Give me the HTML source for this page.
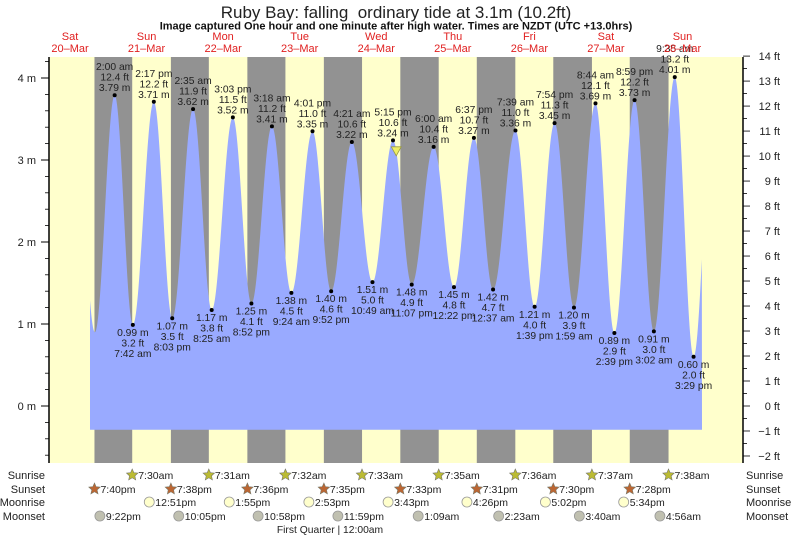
<!DOCTYPE html>
<html><head><meta charset="utf-8"><style>
body{margin:0;background:#fff;}
svg{display:block;font-family:"Liberation Sans",sans-serif;}
</style></head><body>
<svg id="chart" width="793" height="537" viewBox="0 0 793 537" xmlns="http://www.w3.org/2000/svg">
<text x="396" y="18" font-size="17" text-anchor="middle" fill="#222" xml:space="preserve">Ruby Bay: falling  ordinary tide at 3.1m (10.2ft)</text>
<text x="396" y="29.5" font-size="11" font-weight="bold" text-anchor="middle" fill="#111">Image captured One hour and one minute after high water. Times are NZDT (UTC +13.0hrs)</text>
<g id="g"></g>
</svg>
<script>
// hours since Sat 20-Mar 00:00
const extremeTimes=[26.0,31.7,38.28,44.05,50.58,56.42,63.05,68.87,75.3,81.4,88.02,93.87,100.35,106.82,113.25,119.12,126.0,132.37,138.62,144.62,151.65,157.65,163.9,169.98,176.73,182.65,188.98,195.03,201.58,207.48];
const extremeHeights=[3.79,0.99,3.71,1.07,3.62,1.17,3.52,1.25,3.41,1.38,3.35,1.40,3.22,1.51,3.24,1.48,3.16,1.45,3.27,1.42,3.36,1.21,3.45,1.20,3.69,0.89,3.73,0.91,4.01,0.60];
const extremeFeet=["12.4","3.2","12.2","3.5","11.9","3.8","11.5","4.1","11.2","4.5","11.0","4.6","10.6","5.0","10.6","4.9","10.4","4.8","10.7","4.7","11.0","4.0","11.3","3.9","12.1","2.9","12.2","3.0","13.2","2.0"];
const extremeClock=["2:00 am","7:42 am","2:17 pm","8:03 pm","2:35 am","8:25 am","3:03 pm","8:52 pm","3:18 am","9:24 am","4:01 pm","9:52 pm","4:21 am","10:49 am","5:15 pm","11:07 pm","6:00 am","12:22 pm","6:37 pm","12:37 am","7:39 am","1:39 pm","7:54 pm","1:59 am","8:44 am","2:39 pm","8:59 pm","3:02 am","9:35 am","3:29 pm"];
const dayNames=["Sat","Sun","Mon","Tue","Wed","Thu","Fri","Sat","Sun"];
const dayDates=["20\u2013Mar","21\u2013Mar","22\u2013Mar","23\u2013Mar","24\u2013Mar","25\u2013Mar","26\u2013Mar","27\u2013Mar","28\u2013Mar"];
const sunriseHours=[31.5,55.52,79.53,103.55,127.58,151.6,175.62,199.63];
const sunriseLabels=["7:30am","7:31am","7:32am","7:33am","7:35am","7:36am","7:37am","7:38am"];
const sunsetHours=[19.67,43.63,67.6,91.58,115.55,139.52,163.5,187.47];
const sunsetLabels=["7:40pm","7:38pm","7:36pm","7:35pm","7:33pm","7:31pm","7:30pm","7:28pm"];
const moonriseHours=[36.85,61.92,86.88,111.72,136.43,161.03,185.57];
const moonriseLabels=["12:51pm","1:55pm","2:53pm","3:43pm","4:26pm","5:02pm","5:34pm"];
const moonsetHours=[21.37,46.08,70.97,95.98,121.15,146.38,171.67,196.93];
const moonsetLabels=["9:22pm","10:05pm","10:58pm","11:59pm","1:09am","2:23am","3:40am","4:56am"];
const meterTicks=[0,1,2,3,4];
const feetTicks=[-2,-1,0,1,2,3,4,5,6,7,8,9,10,11,12,13,14];
const nowHour=114.27, nowLevel=3.1;

const NS="http://www.w3.org/2000/svg";
const g=document.getElementById('g');
const L=49,R=743,T=57,B=463;
const X=h=>70+(h-12)*3.19;
const Y=m=>406-m*82;
function el(tag,attrs,parent){const e=document.createElementNS(NS,tag);for(const k in attrs)e.setAttribute(k,attrs[k]);(parent||g).appendChild(e);return e;}
function txt(s,attrs){const e=el('text',attrs);e.textContent=s;return e;}

let bg=el('rect',{x:L,y:T,width:R-L,height:B-T,fill:'#ffffcc'});


for(let i=0;i<sunsetHours.length;i++){
  const x1=X(sunsetHours[i]), x2=i<sunriseHours.length?X(sunriseHours[i]):R;
  const r=el('rect',{x:x1,y:T,width:x2-x1,height:B-T,fill:'#929292'});
  
  
}
const ts=[13.5,19.8].concat(extremeTimes,[213.8]);
const hs=[3.7,0.9].concat(extremeHeights,[3.9]);
function level(t){for(let i=0;i<ts.length-1;i++){if(t>=ts[i]&&t<=ts[i+1]){const f=(t-ts[i])/(ts[i+1]-ts[i]);return hs[i]+(hs[i+1]-hs[i])*(1-Math.cos(Math.PI*f))/2;}}return hs[0];}
const t0=12+(90-70)/3.19, t1=12+(702-70)/3.19;
let d=`M${X(t0)},${Y(-0.29)}`;
for(let t=t0;t<=t1;t+=0.1)d+=`L${X(t).toFixed(2)},${Y(level(t)).toFixed(2)}`;
d+=`L${X(t1)},${Y(-0.29)}Z`;
const area=el('path',{d:d,fill:'#99aaff'});


for(let i=0;i<extremeTimes.length;i++){
  const x=X(extremeTimes[i]),y=Y(extremeHeights[i]);
  const high=extremeHeights[i]>2.2;
  const dot=el('circle',{cx:x,cy:y,r:2,fill:'#000'});
  
  
  const lines=high?[extremeClock[i],extremeFeet[i]+' ft',extremeHeights[i].toFixed(2)+' m']:[extremeHeights[i].toFixed(2)+' m',extremeFeet[i]+' ft',extremeClock[i]];
  lines.forEach((s,j)=>{
    const yy=high?y-4-(2-j)*10.5:y+11+j*10.5;
    const t=txt(s,{x:x,y:yy,'font-size':'10.3','text-anchor':'middle',fill:'#222'});
    
    
  });
}
const nx=X(nowHour),ny=Y(nowLevel);
const tri=el('polygon',{points:`${nx-5},${ny-5} ${nx+5},${ny-5} ${nx},${ny+4}`,fill:'#eeee66',stroke:'#999944','stroke-width':'0.8'});


el('line',{x1:L,y1:T,x2:L,y2:B,stroke:'#000','stroke-width':'1.5'});
el('line',{x1:R,y1:T,x2:R,y2:B,stroke:'#000','stroke-width':'1.5'});
for(let m=-0.6;m<=4.21;m+=0.2){const y=Y(m);if(y<T||y>B)continue;el('line',{x1:L-4,y1:y,x2:L,y2:y,stroke:'#000','stroke-width':'0.8'});}
meterTicks.forEach(m=>{const y=Y(m);el('line',{x1:L-8,y1:y,x2:L,y2:y,stroke:'#000'});
  const t=txt(m+' m',{x:36,y:y+4,'font-size':'11','text-anchor':'end',fill:'#222'});
  
  });
const FY=f=>406-f*0.3048*82;
for(let f=-2;f<=14;f+=0.5){el('line',{x1:R,y1:FY(f),x2:R+(f%1===0?7:4),y2:FY(f),stroke:'#000','stroke-width':'0.8'});}
feetTicks.forEach(f=>{const t=txt((f<0?'\u2212'+(-f):f)+' ft',{x:780,y:FY(f)+4,'font-size':'11','text-anchor':'end',fill:'#222'});
  
  });
dayNames.forEach((n,i)=>{const x=X(12+24*i);
  const a=txt(n,{x:x,y:40,'font-size':'11','text-anchor':'middle',fill:'#e02020'});
  
  
  const b=txt(dayDates[i],{x:x,y:52,'font-size':'11','text-anchor':'middle',fill:'#e02020'});
  
  });
function star(x,y,fill){let p='';for(let k=0;k<10;k++){const r=k%2?2.8:6,a=-Math.PI/2+k*Math.PI/5;p+=(x+r*Math.cos(a)).toFixed(1)+','+(y+r*Math.sin(a)).toFixed(1)+' ';}return el('polygon',{points:p,fill:fill,stroke:'#776','stroke-width':'0.6'});}
function row(hours,labels,y,kind,name){hours.forEach((h,i)=>{const x=X(h);let ic;
  if(kind==='sunrise')ic=star(x,y-4,'#bbbb33');else if(kind==='sunset')ic=star(x,y-4,'#bb6633');
  else ic=el('circle',{cx:x,cy:y-4,r:5,fill:kind==='moonrise'?'#ffffcc':'#c0c0b0',stroke:'#999','stroke-width':'0.8'});
  
  
  const t=txt(labels[i],{x:x+6,y:y,'font-size':'10.5',fill:'#222'});
  
  });}
row(sunriseHours,sunriseLabels,479,'sunrise','sunrise');
row(sunsetHours,sunsetLabels,493,'sunset','sunset');
row(moonriseHours,moonriseLabels,506,'moonrise','moonrise');
row(moonsetHours,moonsetLabels,520,'moonset','moonset');
[["Sunrise",479],["Sunset",493],["Moonrise",506],["Moonset",520]].forEach(([s,y])=>{
  const a=txt(s,{x:45,y:y,'font-size':'11','text-anchor':'end',fill:'#222'});
  
  
  const b=txt(s,{x:746,y:y,'font-size':'11',fill:'#222'});
  
  });
const q=txt('First Quarter | 12:00am',{x:330,y:533,'font-size':'10.3','text-anchor':'middle',fill:'#222'});


</script>
</body></html>
